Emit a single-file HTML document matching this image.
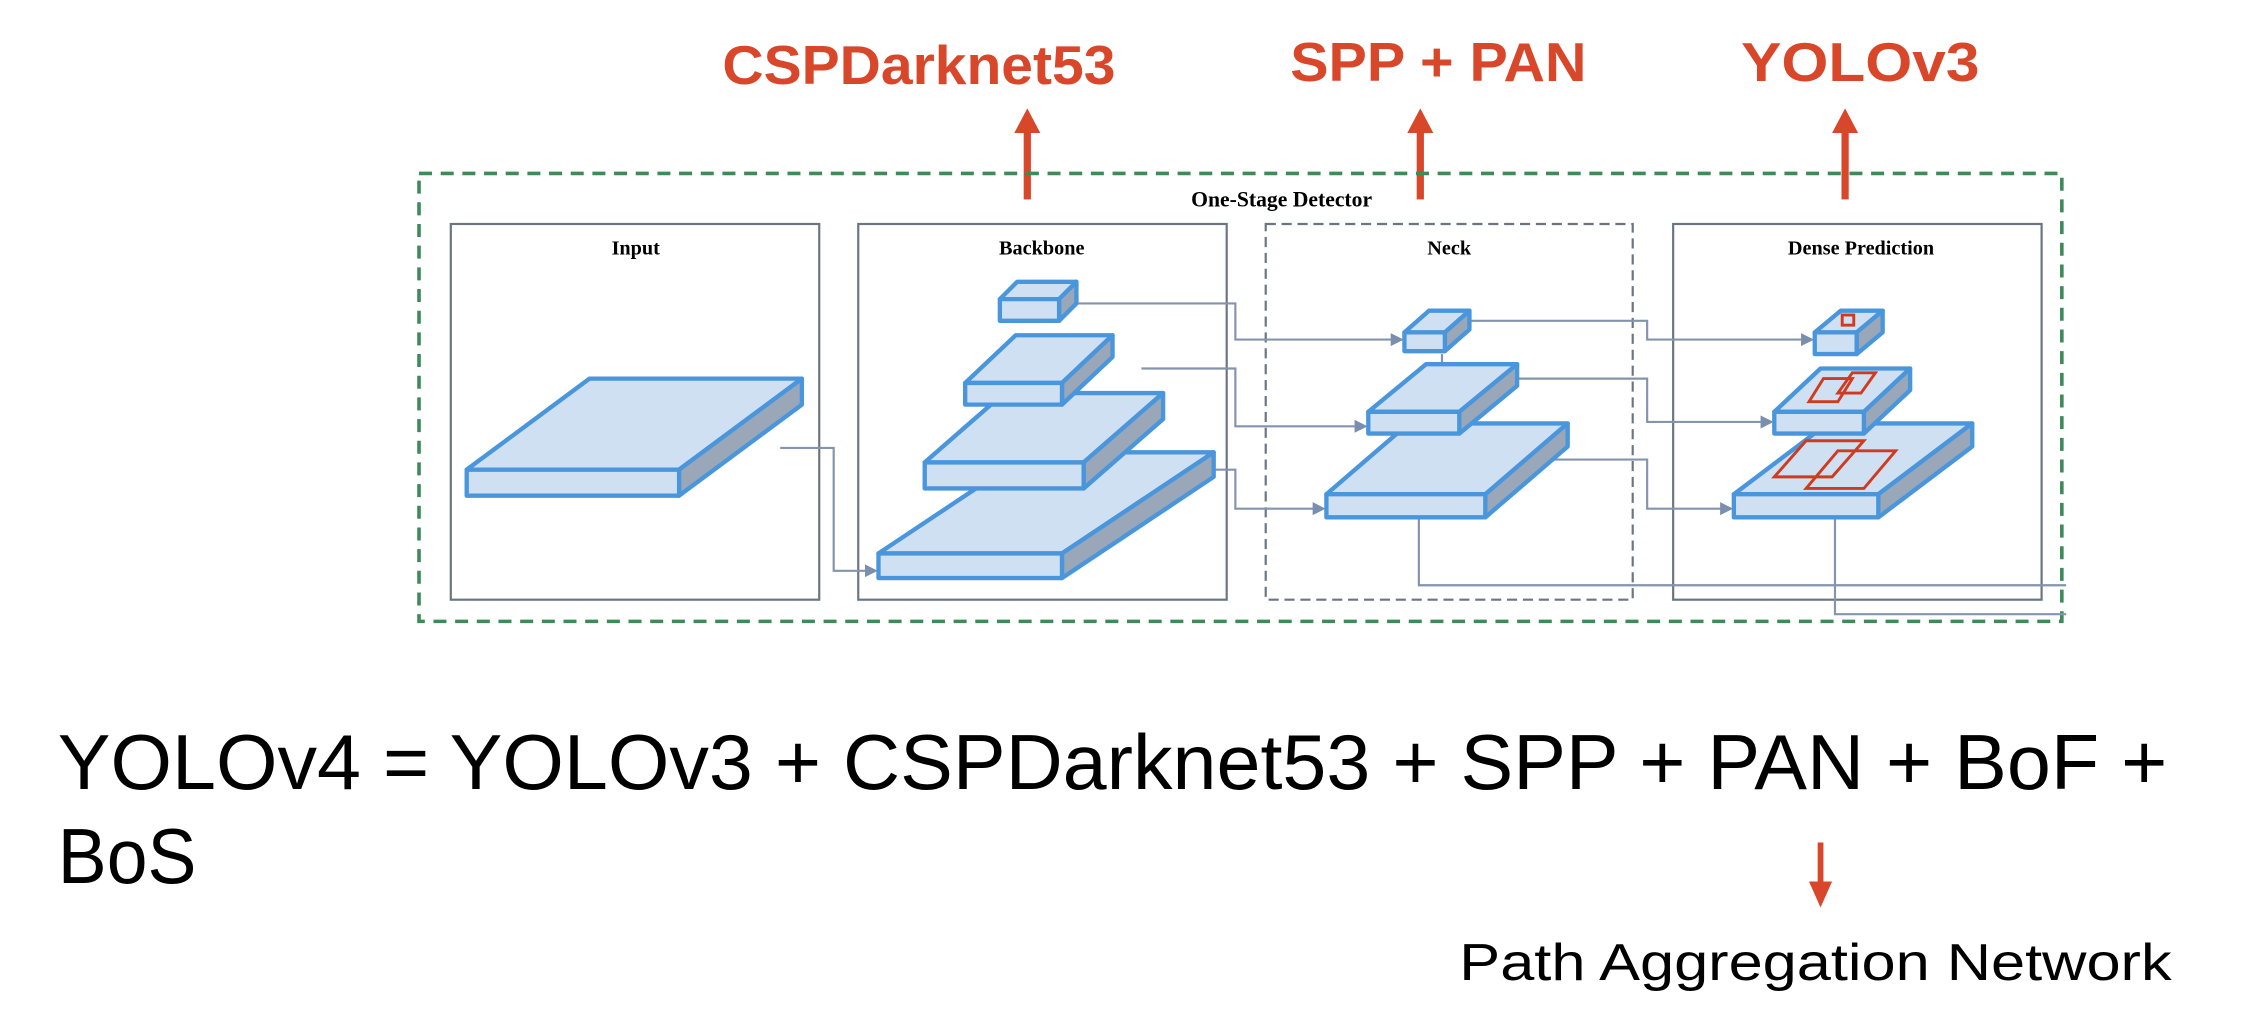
<!DOCTYPE html>
<html><head><meta charset="utf-8"><style>html,body{margin:0;padding:0;background:#fff;}svg{display:block}</style></head>
<body>
<svg width="2254" height="1026" viewBox="0 0 1560 710" preserveAspectRatio="none" xmlns="http://www.w3.org/2000/svg">
<defs>
<marker id="ga" markerWidth="6" markerHeight="6" refX="5" refY="3" orient="auto"><path d="M0,0 L6,3 L0,6 z" fill="#7a8fb0"/></marker>
</defs>
<!-- red labels -->
<g font-family="Liberation Sans, sans-serif" font-weight="bold" fill="#d9472b" font-size="38">
<text x="500" y="58" textLength="272" lengthAdjust="spacingAndGlyphs">CSPDarknet53</text>
<text x="893" y="56" textLength="205" lengthAdjust="spacingAndGlyphs">SPP + PAN</text>
<text x="1205" y="56" textLength="165" lengthAdjust="spacingAndGlyphs">YOLOv3</text>
</g>
<g fill="#d9472b">
<rect x="708.5" y="90" width="5" height="48"/><path d="M702,92 L711,75 L720,92 z"/>
<rect x="980.5" y="90" width="5" height="48"/><path d="M974,92 L983,75 L992,92 z"/>
<rect x="1274.5" y="90" width="5" height="48"/><path d="M1268,92 L1277,75 L1286,92 z"/>
</g>
<!-- outer green dashed -->
<rect x="290" y="120" width="1137" height="310" fill="none" stroke="#3f8a5a" stroke-width="2.5" stroke-dasharray="9,6"/>
<text x="887" y="143" font-family="Liberation Serif, serif" font-weight="bold" font-size="15" text-anchor="middle">One-Stage Detector</text>
<!-- panels -->
<g fill="none" stroke="#6b7480" stroke-width="1.5">
<rect x="312" y="155" width="255" height="260"/>
<rect x="594" y="155" width="255" height="260"/>
<rect x="876" y="155" width="254" height="260" stroke-dasharray="7,4"/>
<rect x="1158" y="155" width="255" height="260"/>
</g>
<g font-family="Liberation Serif, serif" font-weight="bold" font-size="14" text-anchor="middle">
<text x="440" y="176">Input</text><text x="721" y="176">Backbone</text><text x="1003" y="176">Neck</text><text x="1288" y="176">Dense Prediction</text>
</g>
<!-- connectors -->
<g fill="none" stroke="#8494ad" stroke-width="1.5">
<path d="M540,310 H577 V395 H606" marker-end="url(#ga)"/>
<path d="M745,210 H855 V235 H970" marker-end="url(#ga)"/>
<path d="M790,255 H855 V295 H945" marker-end="url(#ga)"/>
<path d="M830,325 H855 V352 H916" marker-end="url(#ga)"/>
<path d="M1017,222 H1140 V235 H1254" marker-end="url(#ga)"/>
<path d="M1045,262 H1140 V292 H1226" marker-end="url(#ga)"/>
<path d="M1070,318 H1140 V352 H1198" marker-end="url(#ga)"/>
<path d="M982,300 V405 H1430"/>
<path d="M1270,270 V425 H1430"/>
<path d="M721,280 V263" marker-end="url(#ga)"/>
<path d="M721,335 V323" marker-end="url(#ga)"/>
<path d="M998,245 V268" marker-end="url(#ga)"/>
<path d="M998,302 V316" marker-end="url(#ga)"/>
</g>
<!-- slabs -->
<g stroke="#4a96dc" stroke-width="3" stroke-linejoin="round">
<g><polygon fill="#cfe0f2" points="323,325 470,325 555,262 408,262"/><polygon fill="#9aa7b8" points="470,325 555,262 555,280 470,343"/><rect fill="#cfe0f2" x="323" y="325" width="147" height="18"/></g>
<g><polygon fill="#cfe0f2" points="608,383 735,383 840,313 713,313"/><polygon fill="#9aa7b8" points="735,383 840,313 840,330 735,400"/><rect fill="#cfe0f2" x="608" y="383" width="127" height="17"/></g>
<g><polygon fill="#cfe0f2" points="640,320 750,320 805,272 695,272"/><polygon fill="#9aa7b8" points="750,320 805,272 805,290 750,338"/><rect fill="#cfe0f2" x="640" y="320" width="110" height="18"/></g>
<g><polygon fill="#cfe0f2" points="668,265 735,265 770,232 703,232"/><polygon fill="#9aa7b8" points="735,265 770,232 770,247 735,280"/><rect fill="#cfe0f2" x="668" y="265" width="67" height="15"/></g>
<g><polygon fill="#cfe0f2" points="692,207 733,207 745,195 704,195"/><polygon fill="#9aa7b8" points="733,207 745,195 745,210 733,222"/><rect fill="#cfe0f2" x="692" y="207" width="41" height="15"/></g>
<g><polygon fill="#cfe0f2" points="918,342 1028,342 1085,293 975,293"/><polygon fill="#9aa7b8" points="1028,342 1085,293 1085,309 1028,358"/><rect fill="#cfe0f2" x="918" y="342" width="110" height="16"/></g>
<g><polygon fill="#cfe0f2" points="947,285 1010,285 1050,252 987,252"/><polygon fill="#9aa7b8" points="1010,285 1050,252 1050,267 1010,300"/><rect fill="#cfe0f2" x="947" y="285" width="63" height="15"/></g>
<g><polygon fill="#cfe0f2" points="972,230 1000,230 1017,215 989,215"/><polygon fill="#9aa7b8" points="1000,230 1017,215 1017,228 1000,243"/><rect fill="#cfe0f2" x="972" y="230" width="28" height="13"/></g>
<g><polygon fill="#cfe0f2" points="1200,342 1300,342 1365,293 1265,293"/><polygon fill="#9aa7b8" points="1300,342 1365,293 1365,309 1300,358"/><rect fill="#cfe0f2" x="1200" y="342" width="100" height="16"/></g>
<g><polygon fill="#cfe0f2" points="1228,285 1290,285 1322,255 1260,255"/><polygon fill="#9aa7b8" points="1290,285 1322,255 1322,270 1290,300"/><rect fill="#cfe0f2" x="1228" y="285" width="62" height="15"/></g>
<g><polygon fill="#cfe0f2" points="1256,230 1285,230 1303,215 1274,215"/><polygon fill="#9aa7b8" points="1285,230 1303,215 1303,230 1285,245"/><rect fill="#cfe0f2" x="1256" y="230" width="29" height="15"/></g>
</g>
<!-- red boxes in dense prediction -->
<g fill="none" stroke="#d03a1e" stroke-width="2">
<rect x="1275" y="218" width="8" height="7"/>
<polygon points="1252,278 1262,262 1282,262 1272,278"/>
<polygon points="1272,272 1282,258 1298,258 1288,272"/>
<polygon points="1228,330 1250,305 1290,305 1268,330"/>
<polygon points="1250,338 1272,312 1312,312 1290,338"/>
</g>
<!-- bottom formula -->
<g font-family="Liberation Sans, sans-serif" fill="#000" font-size="54">
<text x="40" y="546" textLength="1460" lengthAdjust="spacingAndGlyphs">YOLOv4 = YOLOv3 + CSPDarknet53 + SPP + PAN + BoF +</text>
<text x="40" y="611" textLength="96" lengthAdjust="spacingAndGlyphs">BoS</text>
</g>
<rect x="1258" y="583" width="4" height="30" fill="#d9472b"/>
<path d="M1252,610 L1260,628 L1268,610 z" fill="#d9472b"/>
<text x="1010" y="678" font-family="Liberation Sans, sans-serif" font-size="36" textLength="493" lengthAdjust="spacingAndGlyphs">Path Aggregation Network</text>
</svg>
</body></html>
